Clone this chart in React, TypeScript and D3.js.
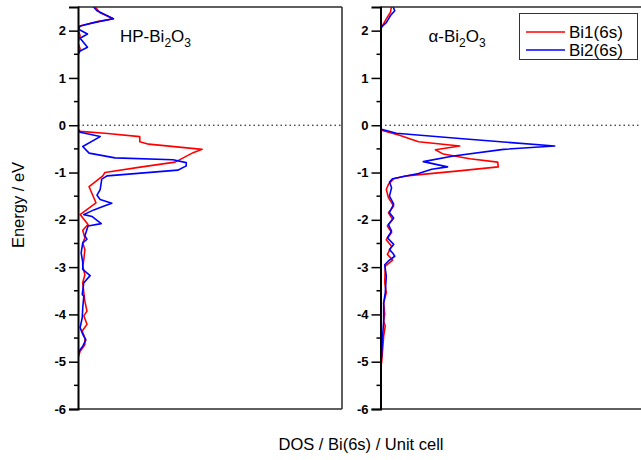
import React, { useEffect, useRef } from "react";
import * as d3 from "d3";

// Energy (eV) / DOS pairs
const hpBi1E = [2.53, 2.38, 2.25, 2.19, 2.1, 2.03, 1.89, 1.75, 1.61, 1.54, -0.08, -0.13, -0.17, -0.24, -0.35, -0.4, -0.51, -0.58, -0.78, -0.88, -1.0, -1.07, -1.3, -1.64, -1.89, -2.1, -2.22, -2.38, -2.49, -2.63, -2.84, -2.98, -3.16, -3.33, -3.54, -3.72, -3.93, -4.03, -4.21, -4.35, -4.5, -4.64, -4.78, -4.92, -6];
const hpBi1D = [0.3, 0.42, 0.67, 0.36, 0.04, 0, 0.04, 0, 0.04, 0, 0, 0.04, 0.51, 1.17, 1.17, 1.34, 2.35, 2.18, 1.84, 1.21, 0.51, 0.47, 0.21, 0.34, 0.04, 0.19, 0.09, 0.13, 0.09, 0.13, 0.11, 0.09, 0.13, 0.09, 0.11, 0.13, 0.17, 0.11, 0.17, 0.08, 0.13, 0.13, 0.04, 0, 0];

const hpBi2E = [2.53, 2.42, 2.25, 2.17, 2.1, 2.03, 1.93, 1.84, 1.65, 1.57, 1.5, -0.1, -0.15, -0.24, -0.45, -0.59, -0.69, -0.73, -0.79, -0.86, -0.95, -1.07, -1.14, -1.36, -1.48, -1.57, -1.65, -1.72, -1.79, -1.89, -1.93, -2.08, -2.13, -2.34, -2.41, -2.49, -2.7, -2.9, -3.05, -3.18, -3.33, -3.58, -3.61, -3.86, -4.07, -4.28, -4.42, -4.54, -4.67, -4.78, -4.89, -6];
const hpBi2D = [0.27, 0.36, 0.67, 0.3, 0.04, 0.01, 0.18, 0.04, 0.18, 0.04, 0, 0, 0.04, 0.42, 0.09, 0.21, 0.7, 1.8, 2.05, 2.05, 1.89, 0.55, 0.45, 0.42, 0.36, 0.42, 0.64, 0.47, 0.3, 0.11, 0.27, 0.44, 0.19, 0.13, 0.17, 0.09, 0.06, 0.09, 0.09, 0.23, 0.11, 0.08, 0.11, 0.09, 0.08, 0.04, 0.09, 0.15, 0.09, 0.02, 0, 0];

const alBi1E = [2.53, 2.39, 2.25, 2.07, 2.05, -0.1, -0.21, -0.35, -0.44, -0.52, -0.61, -0.71, -0.78, -0.88, -0.97, -1.07, -1.13, -1.25, -1.36, -1.53, -1.71, -1.85, -1.99, -2.13, -2.27, -2.42, -2.56, -2.73, -2.85, -2.98, -3.33, -3.54, -3.76, -4.0, -4.14, -4.25, -4.46, -4.75, -5.03, -5.1, -6];
const alBi1D = [0.21, 0.19, 0.11, 0.02, 0, 0, 0.36, 0.72, 1.5, 1.04, 1.19, 1.69, 2.22, 2.23, 1.44, 0.49, 0.25, 0.15, 0.11, 0.15, 0.25, 0.15, 0.23, 0.13, 0.21, 0.11, 0.21, 0.13, 0.23, 0.09, 0.08, 0.11, 0.06, 0.08, 0.06, 0.09, 0.06, 0.04, 0.02, 0, 0];

const alBi2E = [2.53, 2.42, 2.32, 2.17, 2.1, 2.05, -0.08, -0.17, -0.28, -0.44, -0.51, -0.65, -0.77, -0.88, -0.93, -1.02, -1.13, -1.2, -1.32, -1.5, -1.67, -1.85, -1.96, -2.1, -2.24, -2.38, -2.52, -2.63, -2.7, -2.77, -2.87, -2.95, -3.19, -3.54, -3.76, -3.97, -4.14, -4.46, -4.89, -5.03, -6];
const alBi2D = [0.23, 0.27, 0.19, 0.11, 0.04, 0, 0, 0.3, 1.5, 3.3, 2.33, 1.38, 0.81, 1.27, 0.97, 0.72, 0.23, 0.17, 0.21, 0.17, 0.25, 0.17, 0.25, 0.15, 0.21, 0.13, 0.25, 0.17, 0.23, 0.27, 0.15, 0.08, 0.11, 0.09, 0.06, 0.06, 0.06, 0.04, 0.02, 0, 0];

const majorTicks = [-6, -5, -4, -3, -2, -1, 0, 1, 2];
const minorTicks = [-5.5, -4.5, -3.5, -2.5, -1.5, -0.5, 0.5, 1.5];
const seriesNames = ["Bi1(6s)", "Bi2(6s)"];
const seriesColors = ["#ff0000", "#0000ff"];
const panelTitles = ["HP-Bi", "\u03b1-Bi"];

const FONT = "Arial, 'Liberation Sans', sans-serif";

export default function App() {
  const ref = useRef<SVGSVGElement>(null);

  useEffect(() => {
    const svg = d3.select(ref.current);
    svg.selectAll("*").remove();

    const top = 7, bottom = 409, panelW = 264;
    const panelX = [78, 380.5];
    const y = d3.scaleLinear().domain([-6, 2.5]).range([bottom, top]);

    const panels = [
      { series: [[hpBi1E, hpBi1D], [hpBi2E, hpBi2D]], title: panelTitles[0], rightBorder: true },
      { series: [[alBi1E, alBi1D], [alBi2E, alBi2D]], title: panelTitles[1], rightBorder: false },
    ];

    const defs = svg.append("defs");

    panels.forEach((p, pi) => {
      const x0 = panelX[pi];
      const x = d3.scaleLinear().domain([0, 5]).range([x0, x0 + panelW]);
      const g = svg.append("g");

      defs.append("clipPath").attr("id", `clip${pi}`)
        .append("rect").attr("x", x0).attr("y", top).attr("width", panelW).attr("height", bottom - top);

      g.append("line").attr("x1", x0).attr("x2", x0 + panelW).attr("y1", y(0)).attr("y2", y(0))
        .attr("stroke", "#000").attr("stroke-width", 1).attr("stroke-dasharray", "1.5,3");

      const line = d3.line<[number, number]>().x(d => x(d[1])).y(d => y(d[0]));
      p.series.forEach((s, si) => {
        const pts: [number, number][] = s[0].map((e, i) => [e, s[1][i]]);
        g.append("path").attr("d", line(pts) as string)
          .attr("fill", "none").attr("stroke", seriesColors[si]).attr("stroke-width", 1.6)
          .attr("stroke-linejoin", "round")
          .attr("clip-path", `url(#clip${pi})`);
      });

      const fc = "#2a2a2a";
      g.append("line").attr("x1", x0).attr("x2", x0 + panelW).attr("y1", top).attr("y2", top).attr("stroke", fc).attr("stroke-width", 1.5);
      g.append("line").attr("x1", x0).attr("x2", x0 + panelW).attr("y1", bottom).attr("y2", bottom).attr("stroke", fc).attr("stroke-width", 1.5);
      if (p.rightBorder) {
        g.append("line").attr("x1", x0 + panelW).attr("x2", x0 + panelW).attr("y1", top).attr("y2", bottom).attr("stroke", fc).attr("stroke-width", 1.5);
      }

      const ax = d3.axisLeft(y).tickValues(majorTicks).tickSize(9).tickPadding(3).tickFormat(d3.format("d"));
      const axG = g.append("g").attr("transform", `translate(${x0},0)`).call(ax);
      axG.attr("font-family", FONT).attr("font-size", 13);
      axG.select(".domain").attr("stroke", "#000").attr("stroke-width", 2);
      axG.selectAll(".tick line").attr("stroke", "#000").attr("stroke-width", 1.5);
      axG.selectAll(".tick text")
        .style("font-family", FONT).style("font-size", "13px").style("font-weight", "bold").attr("fill", "#000")
        .text((d: any) => (d < 0 ? "-" + Math.abs(d) : String(d)));
      minorTicks.forEach(m => {
        g.append("line").attr("x1", x0 - 4).attr("x2", x0 + 1).attr("y1", y(m)).attr("y2", y(m))
          .attr("stroke", "#000").attr("stroke-width", 1.5);
      });

      const t = g.append("text").attr("x", x0 + 42 + (pi === 1 ? 6 : 0)).attr("y", 42)
        .attr("font-family", FONT).attr("font-size", 17).attr("fill", "#000");
      t.append("tspan").text(p.title);
      t.append("tspan").attr("font-size", 12).attr("dy", 5).text("2");
      t.append("tspan").attr("font-size", 17).attr("dy", -5).text("O");
      t.append("tspan").attr("font-size", 12).attr("dy", 5).text("3");
    });

    const lg = svg.append("g");
    lg.append("rect").attr("x", 519.5).attr("y", 13.5).attr("width", 118).attr("height", 46)
      .attr("fill", "#fff").attr("stroke", "#333").attr("stroke-width", 1);
    seriesNames.forEach((n, i) => {
      const yy = 32 + i * 18;
      lg.append("line").attr("x1", 526).attr("x2", 565).attr("y1", yy).attr("y2", yy)
        .attr("stroke", seriesColors[i]).attr("stroke-width", 1.5);
      lg.append("text").attr("x", 569).attr("y", yy + 6).text(n)
        .attr("font-family", FONT).attr("font-size", 17).attr("fill", "#000");
    });

    svg.append("text").attr("x", 361).attr("y", 450).attr("text-anchor", "middle")
      .attr("font-family", FONT).attr("font-size", 16.5).attr("fill", "#000")
      .text("DOS / Bi(6s) / Unit cell");
    svg.append("text").attr("transform", "translate(24,205) rotate(-90)").attr("text-anchor", "middle")
      .attr("font-family", FONT).attr("font-size", 16.5).attr("fill", "#000")
      .text("Energy / eV");
  }, []);

  return (
    <svg ref={ref} width={641} height={460}
      style={{ position: "absolute", left: 0, top: 0, background: "#fff" }} />
  );
}
